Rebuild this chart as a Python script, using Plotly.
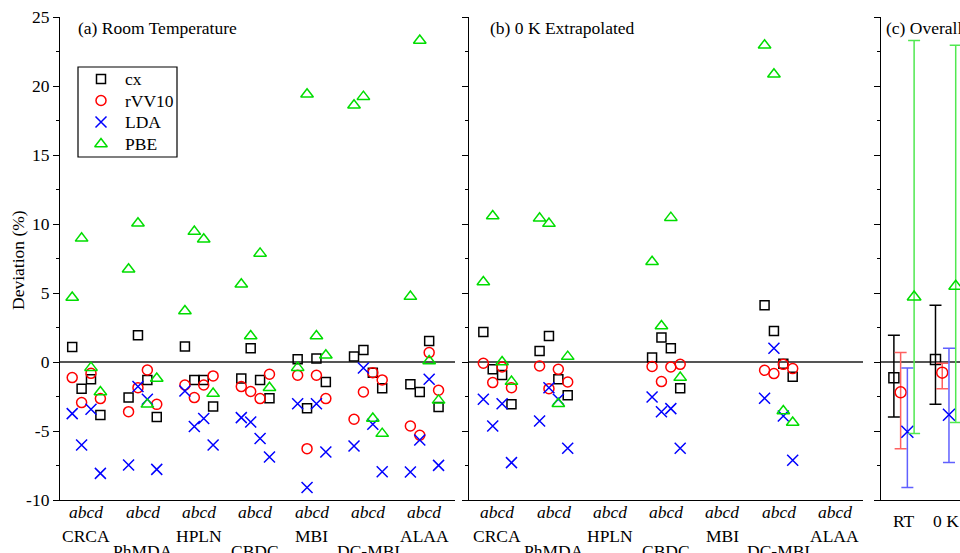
import plotly.graph_objects as go

# ---------------- data ----------------
categories = ["CRCA", "PhMDA", "HPLN", "CBDC", "MBI", "DC-MBI", "ALAA"]
sub_labels = ["a", "b", "c", "d"]
series_names = ["cx", "rVV10", "LDA", "PBE"]

# (a) Room temperature: 4 values (a,b,c,d) per category
cx_rt = [1.09, -1.93, -1.25, -3.84,
         -2.58, 1.93, -1.30, -3.99,
         1.12, -1.30, -1.30, -3.23,
         -1.20, 0.99, -1.30, -2.63,
         0.20, -3.36, 0.25, -1.45,
         0.39, 0.87, -0.77, -1.91,
         -1.62, -2.17, 1.52, -3.26]
rvv10_rt = [-1.13, -2.94, -0.82, -2.65,
            -3.60, -1.86, -0.58, -3.07,
            -1.67, -2.58, -1.67, -1.01,
            -1.78, -2.14, -2.65, -0.89,
            -0.96, -6.28, -0.96, -2.65,
            -4.15, -2.17, -0.77, -1.30,
            -4.64, -5.31, 0.68, -2.05]
lda_rt = [-3.74, -6.01, -3.43, -8.07,
          -7.46, -1.78, -2.70, -7.78,
          -2.10, -4.68, -4.10, -6.01,
          -4.03, -4.35, -5.55, -6.88,
          -3.02, -9.10, -3.02, -6.52,
          -6.09, -0.43, -4.51, -7.95,
          -7.97, -5.65, -1.25, -7.49]
pbe_rt = [4.67, 8.96, -0.41, -2.17,
          6.72, 10.05, -3.07, -1.20,
          3.70, 9.45, 8.89, -2.29,
          5.63, 1.88, 7.87, -1.86,
          -0.41, 19.40, 1.88, 0.49,
          18.60, 19.23, -4.10, -5.19,
          4.74, 23.30, 0.07, -2.78]

# (b) 0 K extrapolated (None = no data)
N = None
cx_0k = [2.17, -0.53, -0.94, -3.07,
         0.80, 1.88, -1.25, -2.41,
         N, N, N, N,
         0.32, 1.77, 0.99, -1.91,
         N, N, N, N,
         4.11, 2.25, -0.12, -1.06,
         N, N, N, N]
rvv10_0k = [-0.09, -1.49, -0.36, -1.86,
            -0.29, -1.93, -0.53, -1.45,
            N, N, N, N,
            -0.33, -1.42, -0.36, -0.17,
            N, N, N, N,
            -0.60, -0.84, -0.17, -0.48,
            N, N, N, N]
lda_0k = [-2.70, -4.64, -3.02, -7.29,
          -4.28, -1.86, -2.70, -6.25,
          N, N, N, N,
          -2.54, -3.60, -3.38, -6.25,
          N, N, N, N,
          -2.63, 0.99, -3.91, -7.12,
          N, N, N, N]
pbe_0k = [5.80, 10.58, 0.00, -1.42,
          10.41, 10.03, -3.02, 0.39,
          N, N, N, N,
          7.27, 2.61, 10.46, -1.13,
          N, N, N, N,
          22.95, 20.85, -3.55, -4.39,
          N, N, N, N]

overall_labels = ["RT", "0 K"]
y_tickvals = [25, 20, 15, 10, 5, 0, -5, -10]
y_ticktext = ["25", "20", "15", "10", "5", "0", "-5", "-10"]
y_minor = [22.5, 17.5, 12.5, 7.5, 2.5, -2.5, -7.5]

# ---------------- styles / layout ----------------
FONT = "Liberation Serif"
FS = 17.5
W, H = 960, 553
styles = [
    dict(symbol="square-open", size=9, color="black", err="black"),
    dict(symbol="circle-open", size=10, color="#FF0000", err="#FF6060"),
    dict(symbol="x-thin-open", size=11, color="#0000FF", err="#6060FF"),
    dict(symbol="triangle-up-open", size=11, color="#00DD00", err="#50E850"),
]

def px_x(p):
    return p / W

def px_y(p):
    return 1 - p / H

y_dom = [px_y(500), px_y(17)]

# x index of each point: category*6 + sub position
xs = [c * 6 + s for c in range(len(categories)) for s in range(len(sub_labels))]

fig = go.Figure()

rt_sets = [cx_rt, rvv10_rt, lda_rt, pbe_rt]
ok_sets = [cx_0k, rvv10_0k, lda_0k, pbe_0k]

def marker(st, extra=0):
    return dict(symbol=st["symbol"], size=st["size"] + extra, color=st["color"],
                line=dict(color=st["color"], width=1.5))

for i, name in enumerate(series_names):
    st = styles[i]
    fig.add_trace(go.Scatter(x=xs, y=rt_sets[i], mode="markers", name=name,
                             marker=marker(st), xaxis="x", yaxis="y"))
    fig.add_trace(go.Scatter(x=xs, y=ok_sets[i], mode="markers", name=name,
                             marker=marker(st), xaxis="x2", yaxis="y2"))

# (c) overall: mean with min/max range
offsets = [-0.243, -0.081, 0.081, 0.243]
for i, name in enumerate(series_names):
    st = styles[i]
    means, plus, minus, xpos = [], [], [], []
    for g, data in enumerate([rt_sets[i], ok_sets[i]]):
        vals = [v for v in data if v is not None]
        m = sum(vals) / len(vals)
        means.append(m)
        plus.append(max(vals) - m)
        minus.append(m - min(vals))
        xpos.append(g + offsets[i])
    fig.add_trace(go.Scatter(
        x=xpos, y=means, mode="markers", name=name, marker=marker(st, 1),
        error_y=dict(type="data", symmetric=False, array=plus, arrayminus=minus,
                     color=st["err"], thickness=1.5, width=6),
        xaxis="x3", yaxis="y3"))

# legend (drawn by hand on an overlay axis measured in page pixels)
leg_left, leg_right, leg_top, leg_bottom = 78, 177, 67, 157
leg_rows = [79, 100.5, 122, 144]
leg_marker_x, leg_text_x = 101, 123
for i, name in enumerate(series_names):
    fig.add_trace(go.Scatter(x=[leg_marker_x], y=[leg_rows[i]], mode="markers",
                             marker=marker(styles[i]), xaxis="x4", yaxis="y4",
                             hoverinfo="skip"))

# ---------------- axes ----------------
def yaxis(anchor, labels):
    return dict(domain=y_dom, anchor=anchor, range=[-10, 25],
                tickmode="array", tickvals=y_tickvals, ticktext=y_ticktext,
                showticklabels=labels, ticks="outside", ticklen=6, tickwidth=1,
                tickcolor="black",
                minor=dict(tickvals=y_minor, ticks="outside", ticklen=3,
                           tickcolor="black", showgrid=False),
                showline=True, linecolor="black", linewidth=1.2,
                showgrid=False, zeroline=True, zerolinecolor="#555555",
                zerolinewidth=1.5, automargin=False,
                tickfont=dict(family=FONT, size=FS, color="black"))

def xaxis(anchor, dom, rng):
    return dict(domain=dom, anchor=anchor, range=rng, showticklabels=False,
                ticks="", showline=True, linecolor="black", linewidth=1.2,
                showgrid=False, zeroline=False, automargin=False)

hidden = dict(domain=[0, 1], visible=False, showgrid=False, zeroline=False,
              automargin=False, fixedrange=True)

fig.update_layout(
    width=W, height=H,
    margin=dict(l=0, r=0, t=0, b=0),
    paper_bgcolor="white", plot_bgcolor="rgba(0,0,0,0)",
    font=dict(family=FONT, size=FS, color="black"),
    showlegend=False,
    xaxis=xaxis("y", [px_x(60), px_x(455)], [-1.3, 40.75]),
    yaxis=yaxis("x", True),
    xaxis2=xaxis("y2", [px_x(469), px_x(863)], [-1.53, 40.5]),
    yaxis2=yaxis("x2", False),
    xaxis3=xaxis("y3", [px_x(880.7), 1.0], [-0.56, 1.346]),
    yaxis3=yaxis("x3", False),
    xaxis4=dict(hidden, anchor="y4", range=[0, W]),
    yaxis4=dict(hidden, anchor="x4", range=[H, 0]),
)

shapes = [dict(type="rect", xref="paper", yref="paper",
               x0=px_x(leg_left), x1=px_x(leg_right),
               y0=px_y(leg_bottom), y1=px_y(leg_top),
               line=dict(color="black", width=1.2), fillcolor="rgba(0,0,0,0)")]

ann = []
for i, name in enumerate(series_names):
    ann.append(dict(text=name, x=px_x(leg_text_x), y=px_y(leg_rows[i]),
                    xref="paper", yref="paper", xanchor="left", yanchor="middle",
                    showarrow=False))
# panel titles
ann.append(dict(text="(a) Room Temperature", x=px_x(76), y=px_y(28), xref="paper", yref="paper",
                xanchor="left", yanchor="middle", showarrow=False))
ann.append(dict(text="(b) 0 K Extrapolated", x=px_x(488), y=px_y(28), xref="paper", yref="paper",
                xanchor="left", yanchor="middle", showarrow=False))
ann.append(dict(text="(c) Overall", x=px_x(884), y=px_y(28), xref="paper", yref="paper",
                xanchor="left", yanchor="middle", showarrow=False))
# y title
ann.append(dict(text="Deviation (%)", x=px_x(18), y=px_y(260), xref="paper", yref="paper",
                xanchor="center", yanchor="middle", textangle=-90, showarrow=False))
# category labels
for xr in ["x", "x2"]:
    for c, cat in enumerate(categories):
        xc = c * 6 + 1.5
        ann.append(dict(text="<i>" + "".join(sub_labels) + "</i>", x=xc, y=px_y(512),
                        xref=xr, yref="paper", xanchor="center", yanchor="middle",
                        showarrow=False))
        ypos = 536 if c % 2 == 0 else 551
        ann.append(dict(text=cat, x=xc, y=px_y(ypos), xref=xr, yref="paper",
                        xanchor="center", yanchor="middle", showarrow=False))
for g, lab in enumerate(overall_labels):
    ann.append(dict(text=lab, x=g, y=px_y(521), xref="x3", yref="paper",
                    xanchor="center", yanchor="middle", showarrow=False))

fig.update_layout(annotations=ann, shapes=shapes)

fig.write_html(
    "out.html",
    config={"displayModeBar": False},
    post_script="document.body.style.margin='0';document.body.style.overflow='hidden';",
)
